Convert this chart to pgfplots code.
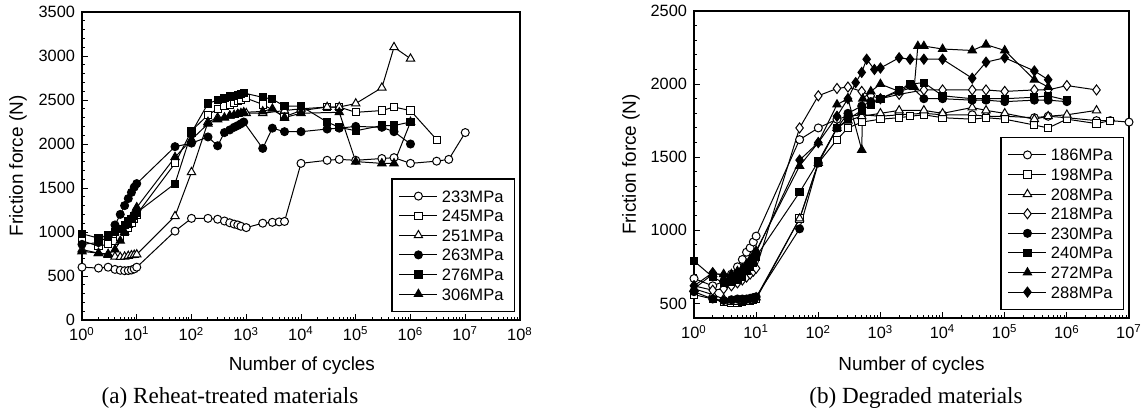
\documentclass[border=0pt]{standalone}
\usepackage{fontspec}
\setmainfont{Liberation Sans}
\newfontfamily\capfont{Liberation Serif}
\usepackage{pgfplots}
\pgfplotsset{compat=1.18}
\pgfplotsset{
  base/.style={
    scale only axis,
    axis line style={line width=0.8pt},
    tick align=inside, xtick pos=bottom, ytick pos=left,
    major tick length=3bp, minor tick length=1.7bp,
    tick style={line width=0.5pt, black},
    ticklabel style={font=\fontsize{8.2}{9}\selectfont},
    /pgf/number format/assume math mode=true,
    yticklabel style={/pgf/number format/1000 sep={}},
    label style={font=\fontsize{9.5}{11}\selectfont},
    legend style={draw=black, line width=0.7pt, font=\fontsize{8.3}{9}\selectfont,
      anchor=south east, row sep=3.8bp, inner xsep=3.5bp, inner ysep=5.6bp,
      nodes={inner ysep=0bp, text height=6bp, text depth=0bp}},
    legend cell align=left,
    legend image code/.code={\draw[mark repeat=2,mark phase=2] plot coordinates {(0bp,0bp) (9.5bp,0bp) (19bp,0bp)};},
    every axis plot/.append style={line width=0.5pt, black, mark size=2bp},
  },
  oc/.style={mark=*, mark options={fill=white, line width=0.5pt}},
  os/.style={mark=square*, mark size=1.8bp, mark options={fill=white, line width=0.5pt}},
  ot/.style={mark=triangle*, mark size=2.4bp, mark options={fill=white, line width=0.5pt}},
  od/.style={mark=diamond*, mark size=2.5bp, mark options={fill=white, line width=0.5pt}},
  fc/.style={mark=*, mark options={fill=black}},
  fs/.style={mark=square*, mark size=1.8bp, mark options={fill=black}},
  ft/.style={mark=triangle*, mark size=2.4bp, mark options={fill=black}},
  fd/.style={mark=diamond*, mark size=2.5bp, mark options={fill=black}},
}
\newcommand\lgd[1]{#1\hspace{3bp}}
\begin{document}
\begin{tikzpicture}
\path[use as bounding box] (0,0) rectangle (573.5bp,207bp);
% ---------------- (a) ----------------
\begin{semilogxaxis}[base, at={(41bp,47bp)}, anchor=south west, width=219bp, height=154bp,
  xmin=1, xmax=1e8, ymin=0, ymax=3500,
  xtick={1,10,100,1000,1e4,1e5,1e6,1e7,1e8},
  xticklabels={10\textsuperscript{0},10\textsuperscript{1},10\textsuperscript{2},10\textsuperscript{3},10\textsuperscript{4},10\textsuperscript{5},10\textsuperscript{6},10\textsuperscript{7},10\textsuperscript{8}},
  ytick={0,500,...,3500}, minor y tick num=4,
  xlabel={Number of cycles}, ylabel={Friction force (N)},
  xlabel style={at={(axis description cs:0.502,-0.149)}, anchor=center},
  ylabel style={at={(axis description cs:-0.146,0.5)}, anchor=center},
  legend style={at={(axis description cs:0.989,0.026)}},
]
\addplot[oc] coordinates {(1,600)(2,590)(3,600)(4,575)(5,565)(6,560)(7,562)(8,568)(9,580)(10,600)
 (50,1010)(100,1155)(200,1155)(300,1145)(400,1125)(500,1105)(600,1090)(700,1080)(800,1065)(1000,1050)
 (2000,1100)(3000,1110)(4000,1115)(5000,1120)(1e4,1780)(3e4,1815)(5e4,1825)(1e5,1815)(3e5,1835)(5e5,1845)(1e6,1780)(3e6,1805)(5e6,1825)(1e7,2130)};
\addlegendentry{\lgd{233MPa}}
\addplot[os] coordinates {(1,900)(2,840)(3,860)(4,900)(5,950)(6,1000)(7,1050)(8,1100)(9,1150)(10,1200)
 (50,1780)(100,2150)(200,2330)(300,2400)(400,2430)(500,2450)(600,2470)(700,2490)(800,2500)(1000,2520)
 (2000,2450)(5000,2310)(1e4,2380)(3e4,2420)(5e4,2420)(1e5,2360)(3e5,2380)(5e5,2420)(1e6,2380)(3e6,2050)};
\addlegendentry{\lgd{245MPa}}
\addplot[ot] coordinates {(1,800)(2,760)(3,740)(4,720)(5,715)(6,720)(7,728)(8,735)(9,740)(10,745)
 (50,1180)(100,1680)(200,2250)(300,2300)(500,2320)(700,2340)(1000,2350)(2000,2350)(5000,2380)
 (1e4,2400)(3e4,2420)(5e4,2420)(1e5,2460)(3e5,2640)(5e5,3100)(1e6,2970)};
\addlegendentry{\lgd{251MPa}}
\addplot[fc] coordinates {(1,860)(2,880)(3,950)(4,1080)(5,1200)(6,1300)(7,1380)(8,1450)(9,1510)(10,1550)
 (50,1970)(100,2010)(200,2080)(300,1980)(400,2130)(500,2160)(600,2190)(700,2210)(800,2230)(900,2250)
 (2000,1950)(3000,2180)(5000,2140)(1e4,2140)(3e4,2170)(5e4,2180)(1e5,2200)(3e5,2190)(5e5,2140)(1e6,2000)};
\addlegendentry{\lgd{263MPa}}
\addplot[fs] coordinates {(1,980)(2,930)(3,960)(4,1000)(5,1030)(6,1080)(7,1120)(8,1150)(9,1180)(10,1220)
 (50,1550)(100,2130)(200,2460)(300,2500)(400,2520)(500,2540)(600,2550)(700,2560)(800,2570)(900,2580)
 (2000,2530)(3000,2510)(5000,2430)(1e4,2430)(3e4,2250)(5e4,2190)(1e5,2150)(3e5,2210)(5e5,2210)(1e6,2250)};
\addlegendentry{\lgd{276MPa}}
\addplot[ft] coordinates {(1,780)(2,760)(3,750)(4,800)(5,900)(6,1000)(7,1080)(8,1150)(9,1220)(10,1280)
 (50,1850)(100,2050)(200,2230)(300,2280)(400,2300)(500,2320)(600,2330)(700,2340)(800,2350)(900,2360)
 (2000,2370)(3000,2400)(5000,2300)(1e4,2350)(5e4,2360)(1e5,1800)(3e5,1780)(5e5,1780)(1e6,2250)};
\addlegendentry{\lgd{306MPa}}
\end{semilogxaxis}
% ---------------- (b) ----------------
\begin{semilogxaxis}[base, at={(347bp,48bp)}, anchor=south west, width=217.5bp, height=153.5bp,
  xmin=1, xmax=1e7, ymin=400, ymax=2500,
  xtick={1,10,100,1000,1e4,1e5,1e6,1e7},
  xticklabels={10\textsuperscript{0},10\textsuperscript{1},10\textsuperscript{2},10\textsuperscript{3},10\textsuperscript{4},10\textsuperscript{5},10\textsuperscript{6},10\textsuperscript{7}},
  ytick={500,1000,...,2500}, minor ytick={400,600,700,800,900,1100,1200,1300,1400,1600,1700,1800,1900,2100,2200,2300,2400},
  xlabel={Number of cycles}, ylabel={Friction force (N)},
  xlabel style={at={(axis description cs:0.5,-0.156)}, anchor=center},
  ylabel style={at={(axis description cs:-0.145,0.5)}, anchor=center},
  legend style={at={(axis description cs:0.989,0.026)}},
]
\addplot[oc] coordinates {(1,670)(2,620)(3,650)(4,700)(5,750)(6,800)(7,850)(8,880)(9,920)(10,960)
 (50,1620)(100,1700)(200,1760)(300,1780)(500,1790)(1000,1780)(2000,1790)(5000,1800)(1e4,1790)(3e4,1790)
 (5e4,1780)(1e5,1780)(3e5,1770)(5e5,1780)(1e6,1770)(3e6,1750)(5e6,1750)(1e7,1740)};
\addlegendentry{\lgd{186MPa}}
\addplot[os] coordinates {(1,560)(2,530)(3,510)(4,500)(5,505)(6,510)(7,515)(8,520)(9,525)(10,530)
 (50,1080)(100,1460)(200,1620)(300,1700)(500,1740)(1000,1760)(2000,1770)(3000,1780)(5000,1790)(1e4,1770)
 (3e4,1760)(5e4,1770)(1e5,1760)(3e5,1720)(5e5,1700)(1e6,1760)(3e6,1730)(5e6,1750)};
\addlegendentry{\lgd{198MPa}}
\addplot[ot] coordinates {(1,600)(2,560)(3,530)(4,510)(5,510)(6,515)(7,520)(8,525)(9,530)(10,540)
 (50,1080)(100,1460)(200,1700)(300,1750)(500,1780)(1000,1800)(2000,1820)(5000,1820)(1e4,1800)(3e4,1840)
 (5e4,1820)(1e5,1800)(3e5,1760)(5e5,1780)(1e6,1790)(3e6,1820)};
\addlegendentry{\lgd{208MPa}}
\addplot[od] coordinates {(1,620)(2,590)(3,600)(4,620)(5,640)(6,660)(7,680)(8,700)(9,720)(10,740)
 (50,1700)(100,1920)(200,1970)(300,1980)(500,1950)(700,1920)(1000,1900)(2000,1930)(5000,1960)(1e4,1960)
 (3e4,1960)(5e4,1960)(1e5,1950)(3e5,1960)(5e5,1960)(1e6,1990)(3e6,1960)};
\addlegendentry{\lgd{218MPa}}
\addplot[fc] coordinates {(1,580)(2,530)(3,520)(4,525)(5,530)(6,530)(7,530)(8,535)(9,540)(10,545)
 (50,1010)(100,1460)(200,1700)(300,1800)(500,1850)(700,1880)(1000,1900)(2000,1950)(3000,1990)(5000,1900)
 (1e4,1900)(3e4,1890)(5e4,1890)(1e5,1880)(3e5,1890)(5e5,1890)(1e6,1880)};
\addlegendentry{\lgd{230MPa}}
\addplot[fs] coordinates {(1,790)(2,680)(3,640)(4,650)(5,660)(6,680)(7,720)(8,750)(9,780)(10,820)
 (50,1260)(100,1470)(200,1700)(300,1760)(500,1820)(700,1860)(1000,1900)(2000,1960)(3000,2000)(5000,2010)
 (1e4,1920)(3e4,1900)(5e4,1900)(1e5,1900)(3e5,1910)(5e5,1920)(1e6,1890)};
\addlegendentry{\lgd{240MPa}}
\addplot[ft] coordinates {(1,600)(2,700)(3,700)(4,700)(5,720)(6,740)(7,770)(8,800)(9,830)(10,860)
 (50,1440)(100,1600)(200,1860)(300,1900)(500,1550)(520,1900)(700,1950)(1000,2000)(2000,1950)(3500,1980)
 (4000,2260)(5000,2260)(1e4,2240)(3e4,2230)(5e4,2270)(1e5,2230)(3e5,2030)(5e5,1980)};
\addlegendentry{\lgd{272MPa}}
\addplot[fd] coordinates {(1,620)(2,710)(3,690)(4,680)(5,690)(6,720)(7,750)(8,780)(9,810)(10,850)
 (50,1480)(100,1600)(200,1780)(300,1900)(400,2010)(500,2080)(600,2170)(800,2100)(1000,2110)(2000,2180)
 (3000,2170)(5000,2170)(1e4,2170)(3e4,2040)(5e4,2150)(1e5,2180)(3e5,2090)(5e5,2030)};
\addlegendentry{\lgd{288MPa}}
\end{semilogxaxis}
\node[font=\capfont\fontsize{11.6}{13}\selectfont] at (115bp,8bp) {(a) Reheat-treated materials};
\node[font=\capfont\fontsize{11.6}{13}\selectfont] at (458bp,8bp) {(b) Degraded materials};
\end{tikzpicture}
\end{document}
